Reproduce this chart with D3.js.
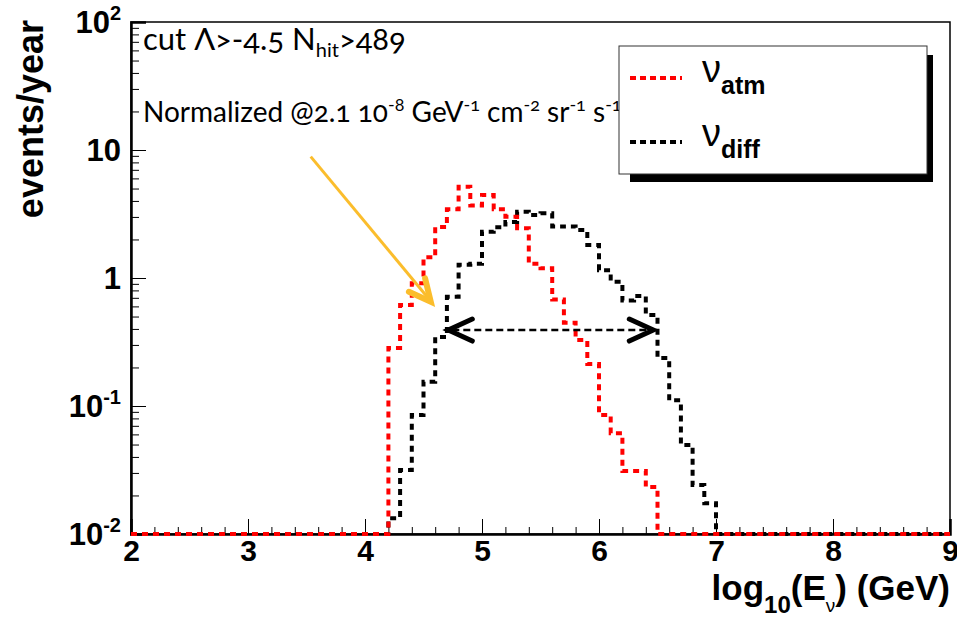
<!DOCTYPE html>
<html>
<head>
<meta charset="utf-8">
<script src="https://cdn.jsdelivr.net/npm/d3@7"></script>
<style>
  body { margin: 0; background: #fff; }
  .axisLabel { font-family: "Liberation Sans", Arial, sans-serif; font-weight: bold; }
  .note { font-family: Lato, "Open Sans", sans-serif; font-variant-numeric: oldstyle-nums; fill: #000; }
</style>
</head>
<body>
<div id="chart"></div>
<script>
var svgWidth = 957;
var svgHeight = 619;

var margin = { top: 22, right: 7, bottom: 85, left: 131 };
var width = svgWidth - margin.left - margin.right;
var height = svgHeight - margin.top - margin.bottom;

// histogram binning (log10 E), values in events/year
var binStart = 4.2;
var binWidth = 0.1;
var xMin = 2, xMax = 9;
var yFloor = 0.01, yCeil = 100;

// nu_atm, bins starting at 4.2
var atmValues = [0.284, 0.615, 0.91, 1.45, 2.5, 3.44, 5.17, 3.68, 4.45, 3.44, 3.01, 2.45,
                 1.29, 1.19, 0.68, 0.448, 0.328, 0.213, 0.085, 0.0612, 0.031, 0.031, 0.0233];
// nu_diff, bins starting at 4.2
var diffValues = [0.0133, 0.0316, 0.085, 0.155, 0.346, 0.714, 1.27, 1.29, 2.3, 2.49, 2.74, 3.3,
                  3.1, 3.2, 2.52, 2.53, 2.37, 1.81, 1.15, 0.936, 0.667, 0.723, 0.514, 0.237,
                  0.111, 0.0496, 0.0241, 0.0174];

var xMajorTicks = [2, 3, 4, 5, 6, 7, 8, 9];
var yMajorTicks = [0.01, 0.1, 1, 10, 100];
var yTickLabels = [["10", "-2"], ["10", "-1"], ["1", ""], ["10", ""], ["10", "2"]];

// annotation arrows (data coords)
var widthArrow = { x0: 4.712, x1: 6.464, y: 0.392 };
var pointerArrow = { x0: 3.536, y0: 8.87, x1: 4.562, y1: 0.653 };

var svg = d3.select("#chart")
  .append("svg")
  .attr("width", svgWidth)
  .attr("height", svgHeight);

var xLinear = d3.scaleLinear().domain([xMin, xMax]).range([margin.left, margin.left + width]);
var yLog = d3.scaleLog().domain([yFloor, yCeil]).range([margin.top + height, margin.top]);

// frame
svg.append("rect")
  .attr("x", margin.left).attr("y", margin.top)
  .attr("width", width).attr("height", height)
  .attr("fill", "none").attr("stroke", "#000").attr("stroke-width", 1.5);

// x ticks
var xMinor = d3.range(20, 91, 2).map(d => d / 10);
svg.append("g")
  .attr("transform", `translate(0, ${margin.top + height})`)
  .call(d3.axisBottom(xLinear).tickValues(xMinor).tickSize(-7).tickFormat(""))
  .call(g => g.select(".domain").remove());
svg.append("g")
  .attr("transform", `translate(0, ${margin.top + height})`)
  .call(d3.axisBottom(xLinear).tickValues(xMajorTicks).tickSize(-15).tickPadding(6).tickFormat(d3.format("d")))
  .call(g => g.select(".domain").attr("stroke-width", 2.5))
  .call(g => g.selectAll("text").attr("class", "axisLabel").style("font-size", "30px").attr("fill", "#000"));

// y ticks
var yMinor = [];
[0.01, 0.1, 1, 10].forEach(function(dec) {
  for (var k = 2; k <= 9; k++) yMinor.push(dec * k);
});
svg.append("g")
  .attr("transform", `translate(${margin.left}, 0)`)
  .call(d3.axisLeft(yLog).tickValues(yMinor).tickSize(-8).tickFormat(""))
  .call(g => g.select(".domain").remove());
svg.append("g")
  .attr("transform", `translate(${margin.left}, 0)`)
  .call(d3.axisLeft(yLog).tickValues(yMajorTicks).tickSize(-15).tickFormat(""))
  .call(g => g.select(".domain").attr("stroke-width", 2.5));

var yLabels = svg.append("g").attr("class", "axisLabel");
yMajorTicks.forEach(function(v, i) {
  var t = yLabels.append("text")
    .attr("x", margin.left - 10)
    .attr("y", yLog(v) + 11)
    .attr("text-anchor", "end")
    .style("font-size", "31px");
  t.append("tspan").text(yTickLabels[i][0]);
  if (yTickLabels[i][1]) {
    t.append("tspan").attr("dy", -13).style("font-size", "20px").text(yTickLabels[i][1]);
  }
});

// axis titles
svg.append("text")
  .attr("class", "axisLabel")
  .attr("transform", "rotate(-90)")
  .attr("x", -margin.top + 2)
  .attr("y", 43)
  .attr("text-anchor", "end")
  .style("font-size", "36px")
  .text("events/year");

var xTitle = svg.append("text")
  .attr("class", "axisLabel")
  .attr("x", margin.left + width)
  .attr("y", 600)
  .attr("text-anchor", "end")
  .style("font-size", "35px");
xTitle.append("tspan").text("log");
xTitle.append("tspan").attr("dy", 13).style("font-size", "24px").text("10");
xTitle.append("tspan").attr("dy", -13).text("(E");
xTitle.append("tspan").attr("dy", 12).style("font-size", "19px").style("font-weight", "normal").text("ν");
xTitle.append("tspan").attr("dy", -12).text(") (GeV)");

// histograms
function stepPoints(values) {
  var pts = [[xMin, yFloor], [binStart, yFloor]];
  values.forEach(function(v, i) {
    var x0 = binStart + i * binWidth;
    var vv = Math.max(v, yFloor);
    pts.push([x0, vv]);
    pts.push([x0 + binWidth, vv]);
  });
  var end = binStart + values.length * binWidth;
  pts.push([end, yFloor]);
  pts.push([xMax, yFloor]);
  return pts;
}

var histLine = d3.line()
  .x(d => xLinear(d[0]))
  .y(d => yLog(d[1]));

svg.append("path")
  .datum(stepPoints(diffValues))
  .attr("d", histLine)
  .attr("fill", "none")
  .attr("stroke", "#000")
  .attr("stroke-width", 4)
  .attr("stroke-dasharray", "6,5");

svg.append("path")
  .datum(stepPoints(atmValues))
  .attr("d", histLine)
  .attr("fill", "none")
  .attr("stroke", "#ff0000")
  .attr("stroke-width", 4)
  .attr("stroke-dasharray", "6,5");

// double arrow
var ax0 = xLinear(widthArrow.x0), ax1 = xLinear(widthArrow.x1), ay = yLog(widthArrow.y);
svg.append("line")
  .attr("x1", ax0 + 4).attr("x2", ax1 - 4)
  .attr("y1", ay).attr("y2", ay)
  .attr("stroke", "#000").attr("stroke-width", 2.5)
  .attr("stroke-dasharray", "7,4");
[[ax0, 1], [ax1, -1]].forEach(function(h) {
  svg.append("polyline")
    .attr("points", [[h[0] + 24 * h[1], ay - 11], [h[0], ay], [h[0] + 24 * h[1], ay + 11]].join(" "))
    .attr("fill", "none").attr("stroke", "#000").attr("stroke-width", 5)
    .attr("stroke-linecap", "round").attr("stroke-linejoin", "miter");
});

// yellow pointer arrow
var px0 = xLinear(pointerArrow.x0), py0 = yLog(pointerArrow.y0);
var px1 = xLinear(pointerArrow.x1), py1 = yLog(pointerArrow.y1);
svg.append("line")
  .attr("x1", px0).attr("y1", py0).attr("x2", px1 - 2).attr("y2", py1 - 3)
  .attr("stroke", "#fbbd2c").attr("stroke-width", 3);
var ang = Math.atan2(py0 - py1, px0 - px1);
var headLen = 24, spread = 26 * Math.PI / 180;
svg.append("polyline")
  .attr("points", [
    [px1 + headLen * Math.cos(ang - spread), py1 + headLen * Math.sin(ang - spread)],
    [px1, py1],
    [px1 + headLen * Math.cos(ang + spread), py1 + headLen * Math.sin(ang + spread)]
  ].join(" "))
  .attr("fill", "none").attr("stroke", "#fbbd2c").attr("stroke-width", 6)
  .attr("stroke-linecap", "round").attr("stroke-linejoin", "miter");

// notes
var cutText = svg.append("text").attr("class", "note")
  .attr("x", 143).attr("y", 50).style("font-size", "31px");
cutText.append("tspan").text("cut Λ>-4.5 N");
cutText.append("tspan").attr("dy", 7).style("font-size", "20px").text("hit");
cutText.append("tspan").attr("dy", -7).text(">489");

var normText = svg.append("text").attr("class", "note")
  .attr("x", 143).attr("y", 122).style("font-size", "28px");
var normParts = [["Normalized @2.1 10", "-8"], [" GeV", "-1"], [" cm", "-2"], [" sr", "-1"], [" s", "-1"]];
normParts.forEach(function(p, i) {
  normText.append("tspan").attr("dy", i === 0 ? 0 : 11).text(p[0]);
  normText.append("tspan").attr("dy", -11).style("font-size", "18px").text(p[1]);
});

// legend
var legend = svg.append("g");
legend.append("rect")
  .attr("x", 630).attr("y", 55).attr("width", 303).attr("height", 127)
  .attr("fill", "#000");
legend.append("rect")
  .attr("x", 619).attr("y", 46).attr("width", 308).attr("height", 128)
  .attr("fill", "#fff").attr("stroke", "#333").attr("stroke-width", 1);

var legendItems = [
  { sub: "atm", color: "#ff0000", y: 78 },
  { sub: "diff", color: "#000", y: 142 }
];
legendItems.forEach(function(item) {
  legend.append("line")
    .attr("x1", 630).attr("x2", 682).attr("y1", item.y).attr("y2", item.y)
    .attr("stroke", item.color).attr("stroke-width", 4).attr("stroke-dasharray", "6,4");
  var t = legend.append("text")
    .attr("x", 702).attr("y", item.y + 4)
    .style("font-family", "'Liberation Sans', Arial, sans-serif");
  t.append("tspan").style("font-size", "38px").text("ν");
  t.append("tspan").attr("dy", 12).style("font-size", "25px").style("font-weight", "bold").text(item.sub);
});
</script>
</body>
</html>
